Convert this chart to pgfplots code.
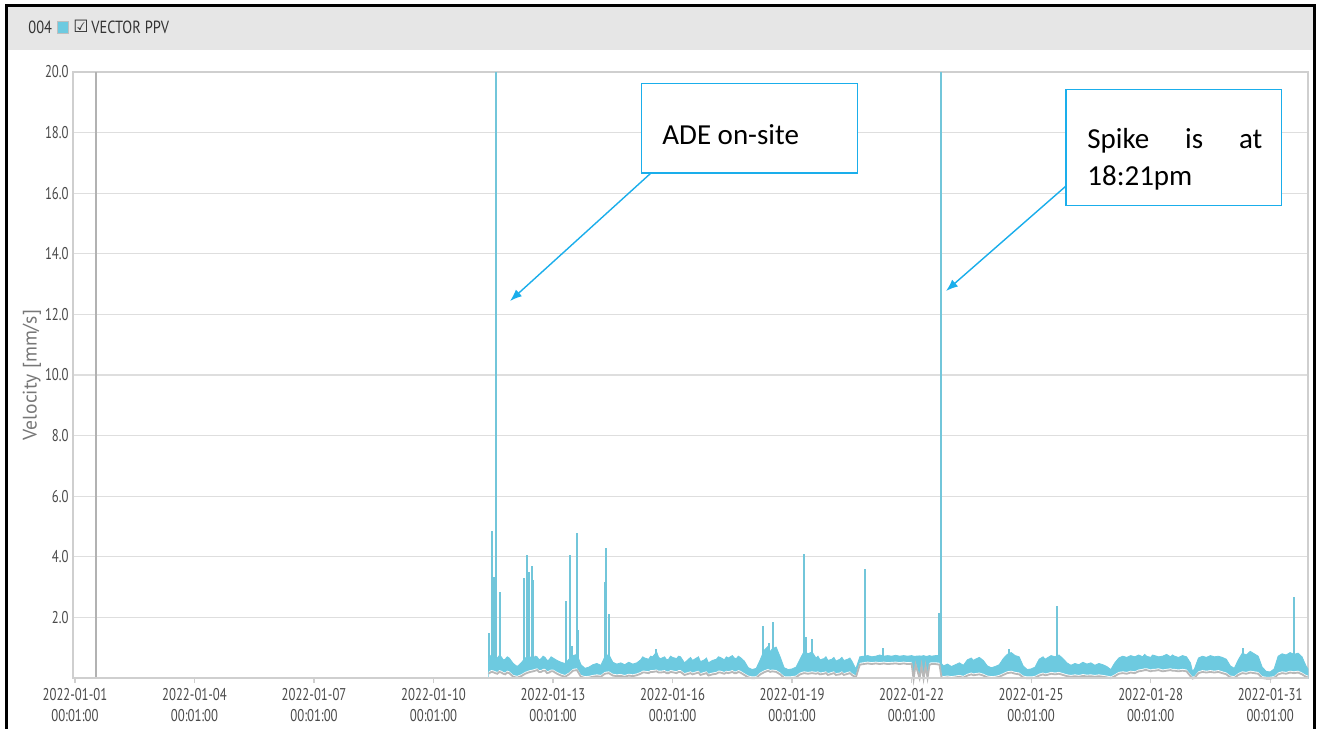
\documentclass[border=0pt]{standalone}
\usepackage{pgfplots}
\pgfplotsset{compat=1.18}
\usetikzlibrary{arrows.meta}
\usepackage{pgfplotstable}
\usepackage{fontspec}
\setmainfont{Carlito}
\newfontfamily\tickfont[FakeStretch=0.75]{PT Sans}
\newfontfamily\hdrfont[FakeStretch=0.82]{PT Sans}
\newfontfamily\labfont{PT Sans}
\newfontfamily\symfont{DejaVu Sans}
\definecolor{band}{HTML}{6DCAE0}
\definecolor{spike}{HTML}{72C6DA}
\definecolor{callout}{HTML}{1AAEEB}
\definecolor{gridc}{HTML}{DEDEDE}
\definecolor{boxc}{HTML}{CFCFCF}
\definecolor{tickc}{HTML}{4A4A4A}
\definecolor{labc}{HTML}{777777}
\definecolor{hdr}{HTML}{E6E6E6}
\definecolor{hdrtext}{HTML}{333333}

\pgfplotstableread{
x u l
10.38 0.66 0.20
10.4 0.68 0.22
10.45 0.76 0.26
10.5 0.72 0.25
10.55 0.64 0.22
10.6 0.66 0.20
10.65 0.74 0.26
10.7 0.70 0.24
10.75 0.60 0.20
10.8 0.62 0.18
10.85 0.70 0.24
10.9 0.66 0.22
11.0 0.48 0.10
11.1 0.38 0.07
11.2 0.50 0.12
11.3 0.66 0.20
11.4 0.72 0.25
11.5 0.62 0.28
11.55 0.72 0.30
11.6 0.70 0.32
11.65 0.60 0.26
11.7 0.64 0.26
11.75 0.72 0.30
11.8 0.68 0.30
11.85 0.58 0.22
11.9 0.60 0.24
11.95 0.70 0.28
12.0 0.66 0.28
12.1 0.58 0.20
12.2 0.52 0.14
12.3 0.48 0.10
12.4 0.62 0.18
12.5 0.74 0.30
12.6 0.78 0.32
12.7 0.44 0.10
12.8 0.32 0.06
12.9 0.36 0.07
13.0 0.44 0.10
13.1 0.48 0.12
13.2 0.42 0.10
13.3 0.70 0.20
13.4 0.78 0.22
13.5 0.52 0.14
13.6 0.46 0.12
13.7 0.50 0.13
13.8 0.44 0.10
13.9 0.52 0.14
14.0 0.46 0.12
14.1 0.50 0.15
14.2 0.60 0.20
14.25 0.70 0.24
14.3 0.66 0.24
14.4 0.62 0.22
14.45 0.72 0.26
14.5 0.70 0.26
14.6 0.86 0.28
14.65 0.68 0.24
14.7 0.64 0.24
14.8 0.70 0.26
14.85 0.60 0.22
14.9 0.62 0.22
14.95 0.72 0.26
15.0 0.68 0.25
15.1 0.64 0.22
15.15 0.72 0.26
15.2 0.70 0.26
15.3 0.50 0.16
15.4 0.62 0.20
15.45 0.68 0.22
15.5 0.58 0.18
15.6 0.66 0.22
15.65 0.70 0.24
15.7 0.54 0.16
15.8 0.60 0.20
15.85 0.66 0.22
15.9 0.50 0.14
16.0 0.58 0.18
16.1 0.62 0.20
16.15 0.70 0.24
16.2 0.68 0.24
16.3 0.60 0.20
16.35 0.70 0.24
16.4 0.66 0.22
16.5 0.74 0.26
16.55 0.66 0.22
16.6 0.64 0.22
16.65 0.72 0.26
16.7 0.68 0.24
16.8 0.56 0.16
16.9 0.34 0.08
17.0 0.28 0.05
17.1 0.32 0.06
17.2 0.60 0.18
17.3 0.92 0.25
17.4 1.05 0.30
17.45 0.86 0.26
17.5 0.96 0.28
17.6 1.02 0.26
17.7 0.70 0.18
17.8 0.34 0.06
17.9 0.28 0.05
18.0 0.30 0.06
18.1 0.36 0.08
18.2 0.62 0.18
18.3 0.88 0.22
18.4 0.80 0.20
18.5 0.86 0.22
18.6 0.66 0.20
18.65 0.72 0.22
18.7 0.60 0.18
18.8 0.64 0.20
18.85 0.70 0.22
18.9 0.58 0.16
19.0 0.62 0.20
19.05 0.68 0.22
19.1 0.56 0.16
19.2 0.62 0.18
19.25 0.68 0.22
19.3 0.58 0.16
19.4 0.62 0.20
19.45 0.66 0.22
19.5 0.56 0.16
19.6 0.30 0.08
19.7 0.70 0.50
19.8 0.72 0.52
19.9 0.74 0.54
20.0 0.70 0.52
20.1 0.72 0.54
20.2 0.76 0.52
20.3 0.72 0.54
20.4 0.74 0.52
20.5 0.72 0.53
20.6 0.75 0.54
20.7 0.72 0.52
20.8 0.74 0.54
20.9 0.72 0.52
21.0 0.74 0.53
21.05 0.72 0.02
21.1 0.72 0.50
21.2 0.73 0.05
21.25 0.72 0.48
21.3 0.74 0.04
21.35 0.72 0.46
21.4 0.72 0.06
21.45 0.74 0.50
21.5 0.72 0.52
21.6 0.74 0.52
21.7 0.75 0.50
21.75 0.48 0.08
21.8 0.40 0.06
21.9 0.46 0.08
22.0 0.38 0.06
22.1 0.44 0.08
22.2 0.50 0.10
22.3 0.42 0.07
22.4 0.60 0.14
22.5 0.66 0.18
22.55 0.58 0.15
22.6 0.62 0.16
22.7 0.68 0.18
22.8 0.58 0.14
22.9 0.40 0.08
23.0 0.34 0.06
23.1 0.38 0.07
23.2 0.44 0.10
23.3 0.64 0.16
23.4 0.78 0.22
23.5 0.84 0.24
23.6 0.74 0.20
23.7 0.70 0.18
23.8 0.40 0.08
23.9 0.28 0.05
24.0 0.30 0.05
24.1 0.36 0.07
24.2 0.62 0.14
24.3 0.70 0.18
24.35 0.62 0.15
24.4 0.66 0.16
24.5 0.74 0.20
24.6 0.70 0.18
24.7 0.76 0.20
24.8 0.64 0.16
24.9 0.50 0.12
25.0 0.42 0.10
25.1 0.48 0.12
25.2 0.44 0.10
25.3 0.52 0.13
25.4 0.46 0.11
25.5 0.50 0.12
25.6 0.42 0.10
25.7 0.48 0.12
25.8 0.44 0.10
25.9 0.38 0.08
26.0 0.28 0.05
26.1 0.50 0.12
26.2 0.66 0.20
26.3 0.72 0.22
26.4 0.68 0.20
26.5 0.74 0.24
26.6 0.70 0.22
26.7 0.76 0.28
26.8 0.70 0.30
26.85 0.78 0.32
26.9 0.72 0.32
27.0 0.68 0.28
27.05 0.76 0.30
27.1 0.74 0.30
27.2 0.70 0.32
27.3 0.72 0.28
27.4 0.78 0.30
27.5 0.70 0.32
27.55 0.76 0.30
27.6 0.72 0.30
27.7 0.68 0.28
27.8 0.74 0.30
27.9 0.70 0.28
28.0 0.50 0.12
28.05 0.22 0.04
28.1 0.30 0.06
28.2 0.66 0.22
28.3 0.72 0.26
28.4 0.68 0.24
28.5 0.74 0.26
28.6 0.70 0.24
28.7 0.72 0.26
28.8 0.68 0.22
28.9 0.62 0.18
29.0 0.40 0.08
29.1 0.32 0.06
29.2 0.60 0.16
29.3 0.82 0.22
29.4 0.76 0.20
29.5 0.88 0.24
29.6 0.80 0.22
29.7 0.72 0.20
29.8 0.36 0.06
29.9 0.22 0.04
30.0 0.20 0.04
30.1 0.30 0.06
30.2 0.72 0.18
30.3 0.80 0.22
30.4 0.76 0.20
30.5 0.84 0.24
30.6 0.78 0.22
30.7 0.82 0.24
30.8 0.70 0.18
30.9 0.40 0.10
30.95 0.30 0.08
}\envtable

\pgfplotstableread{
x y
10.39 1.50
10.46 4.84
10.51 3.32
10.57 20.0
10.67 2.85
11.27 3.30
11.35 4.05
11.39 3.50
11.47 3.70
11.50 3.25
12.32 2.55
12.43 4.05
12.47 1.06
12.60 4.78
12.62 1.60
13.30 3.17
13.33 4.28
13.41 2.10
14.58 0.95
17.26 1.72
17.43 1.15
17.51 1.86
18.29 4.10
18.36 1.34
18.49 1.28
19.83 3.60
20.27 1.00
21.70 2.16
21.73 20.0
23.45 0.95
24.64 2.38
29.33 0.99
30.59 2.66
}\spiketable

\begin{document}
\begin{tikzpicture}
\begin{scope}[x=0.5pt,y=-0.5pt]
\path[use as bounding box] (0,0) rectangle (1317,729);
\fill[white] (0,0) rectangle (1317,729);
\fill[hdr] (8,7) rectangle (1313,50);
\fill[black] (5,4) rectangle (1316,7);
\fill[black] (5,4) rectangle (8,729);
\fill[black] (1313,4) rectangle (1316,729);
\node[anchor=west, text=hdrtext, font=\hdrfont\fontsize{8.8}{10}\selectfont, inner sep=0pt] at (28,27.5) {004};
\filldraw[fill=band, draw=black!25, line width=0.4pt] (57,21.5) rectangle (68,33);
\node[anchor=west, text=hdrtext, font=\symfont\bfseries\fontsize{8.5}{10}\selectfont, inner sep=0pt] at (73,26.5) {☑};
\node[anchor=west, text=hdrtext, font=\hdrfont\fontsize{8.8}{10}\selectfont, inner sep=0pt] at (91,27.5) {VECTOR PPV};
\end{scope}

\begin{axis}[
  at={(36.5pt,-339pt)}, anchor=south west,
  scale only axis, width=617.5pt, height=303pt,
  xmin=-0.05, xmax=30.95, ymin=0, ymax=20,
  axis line style={draw=boxc, line width=0.6pt},
  ymajorgrids, grid style={draw=gridc, line width=0.6pt},
  ytick={2,4,...,20},
  yticklabels={2.0,4.0,6.0,8.0,10.0,12.0,14.0,16.0,18.0,20.0},
  xtick={0,3,...,30},
  xticklabels={{2022-01-01\\00:01:00},{2022-01-04\\00:01:00},{2022-01-07\\00:01:00},{2022-01-10\\00:01:00},{2022-01-13\\00:01:00},{2022-01-16\\00:01:00},{2022-01-19\\00:01:00},{2022-01-22\\00:01:00},{2022-01-25\\00:01:00},{2022-01-28\\00:01:00},{2022-01-31\\00:01:00}},
  tick align=outside, major tick length=2.5pt,
  xtick pos=bottom, ytick pos=left,
  xtick style={draw=boxc, line width=0.6pt},
  ytick style={draw=none},
  every tick label/.append style={font=\tickfont\fontsize{8.5}{10.5}\selectfont, text=tickc},
  xticklabel style={align=center, anchor=north, inner sep=0pt, yshift=-2.5pt},
  yticklabel style={anchor=east, inner sep=0pt, xshift=0.5pt},
  ylabel={Velocity [mm/s]},
  every axis y label/.style={at={(axis description cs:0,0.5)}, xshift=-20.5pt, rotate=90, anchor=center, font=\labfont\fontsize{9.8}{11}\selectfont, text=labc},
  clip=false,
]
\addplot[draw=black!30, line width=0.8pt, forget plot] coordinates {(0.53,0) (0.53,20)};
\addplot[ycomb, draw=spike, line width=1pt, mark=none, forget plot] table[x=x,y=y]{\spiketable};
\addplot[fill=band, draw=band, line width=0.4pt, forget plot] table[x=x,y=u]{\envtable} \closedcycle;
\addplot[fill=white, draw=none, forget plot] table[x=x,y=l]{\envtable} \closedcycle;
\addplot[draw=black!28, line width=0.9pt, yshift=-0.9pt, forget plot] table[x=x,y=l]{\envtable};
\addplot[draw=boxc, line width=0.6pt, forget plot] coordinates {(-0.05,0) (30.95,0)};
\end{axis}

\begin{scope}[x=0.5pt,y=-0.5pt]
\fill[white] (641.5,83.5) rectangle (857.5,173);
\draw[callout, line width=0.9pt] (641.5,83.5) -- (857.5,83.5) -- (857.5,173) -- (641.5,173) -- cycle;
\node[anchor=base west, inner sep=0pt, font=\fontsize{14.5}{17}\selectfont] at (662,144) {ADE on-site};
\fill[white] (1066,89.5) rectangle (1281.5,205.5);
\draw[callout, line width=0.9pt] (1066,89.5) -- (1281.5,89.5) -- (1281.5,205.5) -- (1066,205.5) -- cycle;
\node[anchor=base west, inner sep=0pt, font=\fontsize{14.5}{17}\selectfont] at (1087,148) {\makebox[87.5pt][l]{Spike\hfill is\hfill at}};
\node[anchor=base west, inner sep=0pt, font=\fontsize{14.5}{17}\selectfont] at (1087,185) {18:21pm};
\draw[callout, line width=0.7pt, -{Latex[length=6pt,width=4.5pt]}] (651,173) -- (510,301);
\draw[callout, line width=0.7pt, -{Latex[length=6pt,width=4.5pt]}] (1066,186) -- (946,291);
\end{scope}
\end{tikzpicture}
\end{document}
